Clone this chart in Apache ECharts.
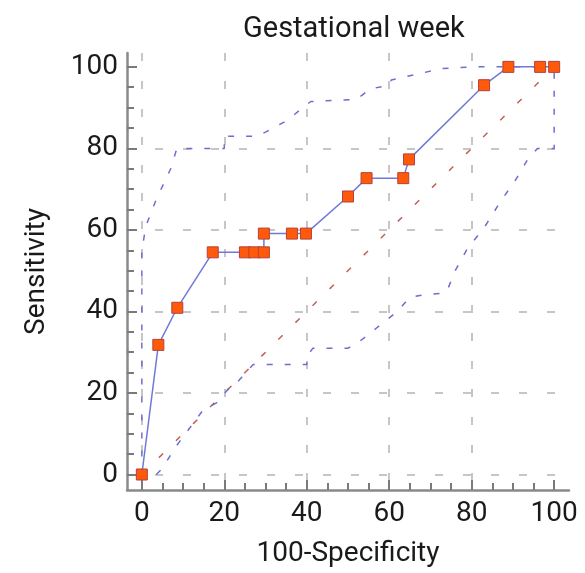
<!DOCTYPE html>
<html>
<head>
<meta charset="utf-8">
<script src="https://cdn.jsdelivr.net/npm/echarts@6/dist/echarts.min.js"></script>
<style>html,body{margin:0;padding:0;background:#fff}#c{width:585px;height:573px}</style>
</head>
<body>
<div id="c"></div>
<script>
// ROC curve points (100-Specificity, Sensitivity)
var rocX = [0, 4.0, 8.6, 17.2, 25.0, 27.3, 29.6, 29.6, 36.4, 39.8, 50.0, 54.5, 63.4, 64.8, 83.0, 88.9, 96.6, 100];
var rocY = [0, 31.8, 40.9, 54.5, 54.5, 54.5, 54.5, 59.1, 59.1, 59.1, 68.2, 72.7, 72.7, 77.3, 95.5, 100, 100, 100];
// upper confidence bound
var upperX = [0, 0, 1, 3.5, 7, 8.5, 20, 20, 28, 30, 35.5, 39, 41, 52, 54, 55, 60, 60.5, 68, 73, 80, 100];
var upperY = [0, 55, 61, 67.5, 75, 80, 80, 83, 83, 84, 87, 90, 91.5, 92, 93.5, 94.5, 95.5, 96.8, 98.5, 99.6, 100, 100];
// lower confidence bound
var lowerX = [3.5, 5, 8, 15, 18, 21, 23, 27, 40, 40, 41.5, 50, 52, 57, 62, 65, 68, 73, 74, 76, 79, 83, 87, 90.5, 94, 96, 100, 100];
var lowerY = [0, 1.5, 6.5, 16, 17.5, 21, 22.5, 27, 27, 29, 31, 31, 32, 36, 40, 43.5, 44, 44.5, 45, 50, 55.5, 60.5, 67, 72, 78, 80, 80, 100];
// diagonal reference line
var diagX = [0, 100];
var diagY = [0, 100];
// tick labels
var tickValues = [0, 20, 40, 60, 80, 100];

function zip(a, b) { return a.map(function (v, i) { return [v, b[i]]; }); }

var FONT = 'Roboto';
var axisCommon = {
  type: 'value',
  axisLine: { show: true, onZero: false, lineStyle: { color: '#8a8a8a', width: 2.5 } },
  axisTick: { show: true, inside: true, length: 10, customValues: tickValues, lineStyle: { color: '#7a7a7a', width: 2 } },
  minorTick: { show: true, splitNumber: 4, length: 7, lineStyle: { color: '#7a7a7a', width: 2 } },
  axisLabel: { customValues: tickValues, fontFamily: FONT, fontSize: 28, color: '#1a1a1a' },
  splitLine: { show: true, showMinLine: true, showMaxLine: false, lineStyle: { color: '#b4b4b4', width: 1.5, type: [8, 20] } },
  nameTextStyle: { fontFamily: FONT, fontSize: 28, color: '#1a1a1a' },
  nameLocation: 'middle'
};

var chart = echarts.init(document.getElementById('c'), null, { renderer: 'canvas' });
chart.setOption({
  animation: false,
  backgroundColor: '#fff',
  title: {
    text: 'Gestational week',
    left: 238, top: 10,
    textStyle: { fontFamily: FONT, fontSize: 29, fontWeight: 'normal', color: '#1a1a1a' }
  },
  grid: { left: 127, right: 16, top: 53, bottom: 79 },
  xAxis: Object.assign({}, axisCommon, {
    min: -3.6, max: 103.6,
    name: '100-Specificity', nameGap: 50,
    axisLabel: Object.assign({}, axisCommon.axisLabel, { margin: 10 })
  }),
  yAxis: Object.assign({}, axisCommon, {
    min: -3.8, max: 103.4,
    name: 'Sensitivity', nameGap: 76,
    axisLabel: Object.assign({}, axisCommon.axisLabel, { margin: 9 })
  }),
  series: [
    {
      type: 'line', data: zip(diagX, diagY), showSymbol: false, silent: true, z: 2,
      lineStyle: { color: '#c0605a', width: 1.5, type: [6, 18] }
    },
    {
      type: 'line', data: zip(upperX, upperY), showSymbol: false, silent: true, z: 3,
      lineStyle: { color: '#6a6fd0', width: 1.5, type: [6, 12] }
    },
    {
      type: 'line', data: zip(lowerX, lowerY), showSymbol: false, silent: true, z: 3,
      lineStyle: { color: '#6a6fd0', width: 1.5, type: [6, 12] }
    },
    {
      type: 'line', data: zip(rocX, rocY), z: 5,
      symbol: 'rect', symbolSize: 11, showAllSymbol: true,
      lineStyle: { color: '#7078d8', width: 1.5 },
      itemStyle: { color: '#ff5a0a', borderColor: '#b5403a', borderWidth: 1 }
    }
  ]
});
</script>
</body>
</html>
